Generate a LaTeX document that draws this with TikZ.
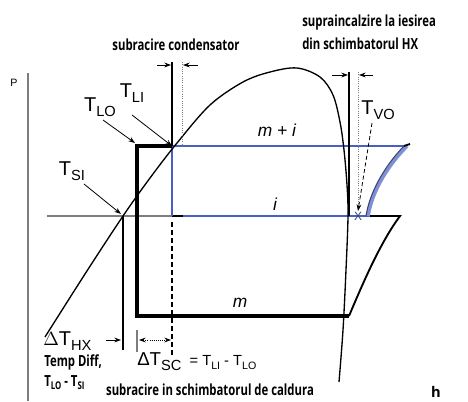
\documentclass[tikz,border=0pt]{standalone}
\usepackage{fontspec}
\setmainfont{Liberation Sans}
\newfontfamily\lblfont{Open Sans}
\usetikzlibrary{arrows.meta}
\definecolor{bluel}{RGB}{72,96,196}
\definecolor{axisgrey}{RGB}{125,125,125}
\definecolor{xdark}{RGB}{60,70,110}
\newcommand{\cond}[1]{\scalebox{0.74}[1]{#1}}
\newcommand{\Tsb}[2]{#1\raisebox{-0.28em}{\fontsize{11}{11}\selectfont #2}}
\newcommand{\Tsbs}[2]{#1\raisebox{-0.25em}{\fontsize{8}{8}\selectfont #2}}
\begin{document}
\begin{tikzpicture}[x=0.75pt,y=-0.75pt,
  tlbl/.style={font=\fontsize{15}{15}\selectfont, inner sep=0pt},
  boldlbl/.style={font=\lblfont\bfseries\fontsize{11.5}{12}\selectfont, inner sep=0pt},
  flowlbl/.style={font=\fontsize{13}{13}\selectfont\itshape, inner sep=0pt},
  arr/.style={-{Stealth[length=5pt,width=3.6pt]}, line width=0.6pt},
  thinline/.style={line width=0.8pt},
  dotline/.style={line width=0.7pt, densely dotted, axisgrey}]
\useasboundingbox (0,0) rectangle (468,401);

% axis
\draw[axisgrey, line width=1.6pt] (28,73) -- (28,401);
\node[inner sep=0pt, font=\fontsize{8}{8}\selectfont] (P) at (14,83) {P};
\node[inner sep=0pt, font=\lblfont\bfseries\fontsize{11}{11}\selectfont] (h) at (436,392) {h};

% points
\coordinate (LO) at (137,146);
\coordinate (LI) at (172,146);
\coordinate (SI) at (123,216);
\coordinate (XP) at (358,216);

% grey evaporating line
\draw[axisgrey, line width=1.5pt] (47,216) -- (SI) -- (172,216);
\draw[black, line width=1.5pt] (172,216) -- (183,216);

% blue box
\draw[bluel, line width=1.7pt] (172,216) -- (LI) -- (407,146);
\draw[bluel, line width=1.7pt] (183,216) -- (370,216);

% blue superheat curve (double)
\draw[bluel!70!white, line width=2.8pt] (368,216) .. controls (372,190) and (389,164) .. (407,146);
\draw[xdark, line width=0.8pt] (366,216) .. controls (370,190) and (387,163) .. (405,145);
\draw[black, line width=1.4pt] (404,146) -- (410,144);

% black box
\draw[black, line width=2.3pt] (LI) -- (LO) -- (137,316) -- (349,316);

% black right part
\draw[black, line width=1.4pt] (370,216) -- (400,216) .. controls (380,243) and (363,283) .. (349,316);

% dome
\draw[black, line width=1.0pt] plot[smooth, tension=0.55] coordinates {(45,337) (85,274) (123,216) (150,178) (177,143) (210,105) (243,82) (270,72) (297,68) (320,77) (333,95) (340,122) (344,150) (347,185) (348,216) (346,270) (343,330) (339,382)};

% verticals top-left
\draw[thinline] (172,62) -- (LI);
\draw[dotline] (182,62) -- (182,146);
\coordinate (ta1) at (157,65); \coordinate (tb1) at (171,65);
\coordinate (ta2) at (198,65); \coordinate (tb2) at (183,65);
\draw[arr] (ta1) -- (tb1);
\draw[arr] (ta2) -- (tb2);

% verticals top-right
\draw[thinline] (349,72) -- (349,216);
\draw[dotline] (358,72) -- (358,208);
\coordinate (ra1) at (332,75); \coordinate (rb1) at (348,75);
\coordinate (ra2) at (373,75); \coordinate (rb2) at (359,75);
\draw[arr] (ra1) -- (rb1);
\draw[arr] (ra2) -- (rb2);

% lower verticals
\draw[thinline, dash pattern=on 4pt off 2pt] (172,222) -- (172,355);
\draw[thinline] (SI) -- (123,350);
\draw[axisgrey, line width=0.8pt] (137,330) -- (137,352);
\coordinate (hxa) at (106,340); \coordinate (hxb) at (121,340);
\draw[arr] (hxa) -- (hxb);
\coordinate (sca) at (139,340); \coordinate (scb) at (171,340);
\draw[{Stealth[length=5pt,width=3.6pt]}-{Stealth[length=5pt,width=3.6pt]}, line width=0.6pt, densely dotted] (sca) -- (scb);

% T labels and arrows
\node[tlbl] (tlo) at (100,107) {\Tsb{T}{LO}};
\node[tlbl] (tli) at (132,93) {\Tsb{T}{LI}};
\node[tlbl] (tsi) at (72,171) {\Tsb{T}{SI}};
\node[tlbl] (tvo) at (378,110) {\Tsb{T}{VO}};
\coordinate (tloA) at (103,120);
\coordinate (tliA) at (132,115);
\coordinate (tsiA) at (84,184);
\coordinate (tvoA) at (372,123);
\draw[arr] (tloA) -- (135,143);
\draw[arr] (tliA) -- (LI);
\draw[arr] (tsiA) -- (121,214);
\draw[arr, densely dashed] (tvoA) -- (358,211);
\node[inner sep=0pt, text=xdark, font=\fontsize{9}{9}\selectfont] (xm) at (XP) {X};

% flow labels
\node[flowlbl] (mi) at (277,130) {m + i};
\node[flowlbl] (i) at (275,204) {i};
\node[flowlbl] (m) at (240,303) {m};

% bottom labels
\node[tlbl, anchor=west] (dthx) at (43,341) {\Tsb{$\Delta$T}{HX}};
\node[tlbl, font=\fontsize{14}{14}\selectfont, anchor=west] (dtsc) at (137,362) {\Tsb{ΔT}{SC}\fontsize{11}{11}\selectfont\ \ = \Tsbs{T}{LI} - \Tsbs{T}{LO}};
\node[boldlbl, anchor=west] (tdiff) at (44,362) {\cond{Temp Diff,}};
\node[boldlbl, anchor=west] (tdiff2) at (44,383) {\cond{T\raisebox{-0.2em}{\fontsize{8}{8}\selectfont LO} - T\raisebox{-0.2em}{\fontsize{8}{8}\selectfont SI}}};
\node[boldlbl] (subhx) at (210,390) {\cond{subracire in schimbatorul de caldura}};

% top labels
\node[boldlbl] (subcond) at (176,45) {\cond{subracire condensator}};
\node[boldlbl, anchor=west] (supra1) at (302,23) {\cond{supraincalzire la iesirea}};
\node[boldlbl, anchor=west] (supra2) at (302,44) {\cond{din schimbatorul HX}};
\end{tikzpicture}
\end{document}
